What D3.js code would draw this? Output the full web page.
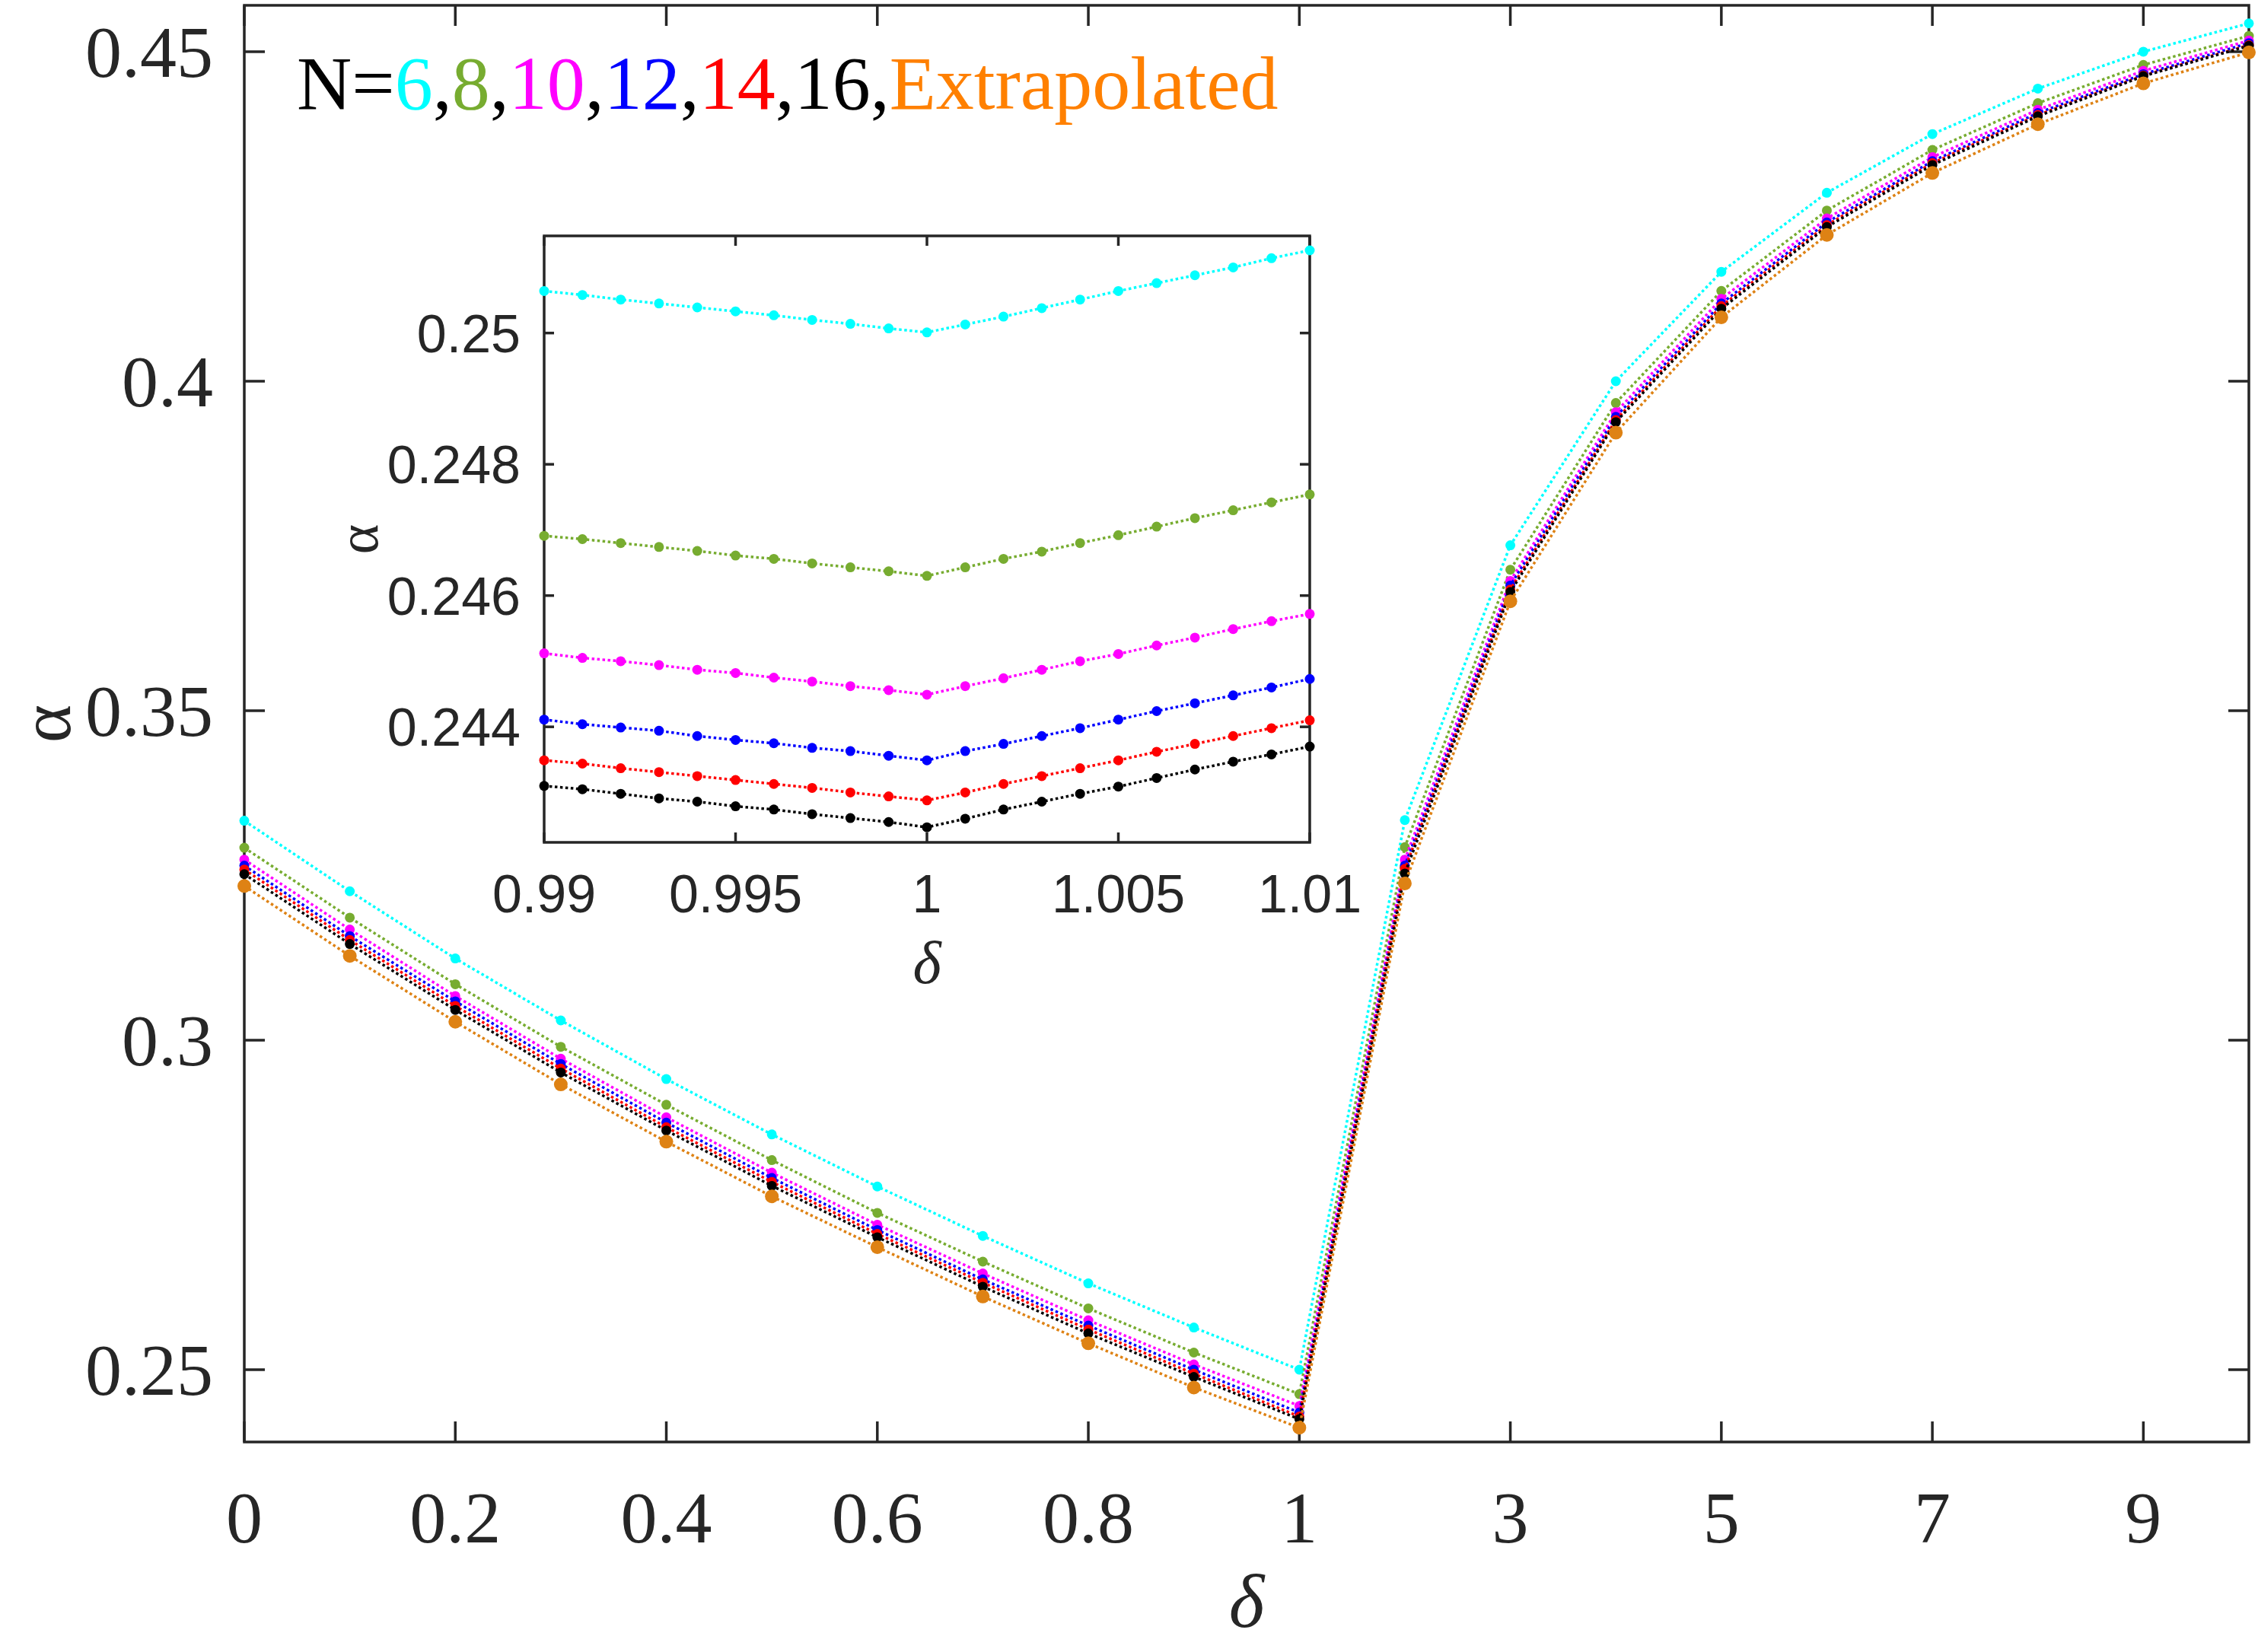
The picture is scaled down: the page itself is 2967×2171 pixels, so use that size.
<!DOCTYPE html>
<html lang="en">
<head>
<meta charset="UTF-8">
<title>alpha vs delta</title>
<script src="https://d3js.org/d3.v7.min.js"></script>
<style>
  body { margin: 0; background: #fff; }
  svg { display: block; background: #fff; }
</style>
</head>
<body>
<svg width="2967" height="2171"></svg>
<script>
// ---- data ----
const deltaMain = [0, 0.1, 0.2, 0.3, 0.4, 0.5, 0.6, 0.7, 0.8, 0.9, 1, 2, 3, 4, 5, 6, 7, 8, 9, 10];

const n6  = [0.3333, 0.3226, 0.3124, 0.3030, 0.2941, 0.2857, 0.2778, 0.2703, 0.2631, 0.2564, 0.2500, 0.3334, 0.3751, 0.4000, 0.4166, 0.4286, 0.4375, 0.4444, 0.4500, 0.4543];
const n8  = [0.3292, 0.3186, 0.3085, 0.2990, 0.2902, 0.2818, 0.2738, 0.2664, 0.2593, 0.2526, 0.2463, 0.3293, 0.3714, 0.3967, 0.4137, 0.4259, 0.4351, 0.4422, 0.4480, 0.4524];
const n10 = [0.3274, 0.3168, 0.3067, 0.2972, 0.2883, 0.2799, 0.2720, 0.2646, 0.2575, 0.2508, 0.2445, 0.3274, 0.3697, 0.3953, 0.4125, 0.4247, 0.4340, 0.4412, 0.4471, 0.4517];
const n12 = [0.3265, 0.3158, 0.3059, 0.2964, 0.2875, 0.2791, 0.2712, 0.2637, 0.2567, 0.2500, 0.2435, 0.3265, 0.3690, 0.3946, 0.4118, 0.4241, 0.4334, 0.4407, 0.4466, 0.4513];
const n14 = [0.3259, 0.3152, 0.3052, 0.2957, 0.2868, 0.2785, 0.2706, 0.2632, 0.2561, 0.2494, 0.2429, 0.3260, 0.3684, 0.3941, 0.4114, 0.4237, 0.4331, 0.4404, 0.4464, 0.4510];
const n16 = [0.3252, 0.3146, 0.3046, 0.2951, 0.2863, 0.2779, 0.2701, 0.2626, 0.2555, 0.2489, 0.2425, 0.3253, 0.3680, 0.3938, 0.4110, 0.4234, 0.4328, 0.4402, 0.4463, 0.4509];
const extrap = [0.3234, 0.3128, 0.3028, 0.2933, 0.2846, 0.2763, 0.2686, 0.2611, 0.2540, 0.2473, 0.2412, 0.3238, 0.3666, 0.3922, 0.4097, 0.4222, 0.4316, 0.4390, 0.4452, 0.4499];

const deltaInset = [0.990, 0.991, 0.992, 0.993, 0.994, 0.995, 0.996, 0.997, 0.998, 0.999, 1.000,
                    1.001, 1.002, 1.003, 1.004, 1.005, 1.006, 1.007, 1.008, 1.009, 1.010];
const inN6  = [0.25064, 0.25058, 0.25051, 0.25045, 0.25039, 0.25033, 0.25027, 0.25020, 0.25014, 0.25007, 0.25001, 0.25013, 0.25025, 0.25038, 0.25051, 0.25064, 0.25076, 0.25088, 0.25100, 0.25114, 0.25126];
const inN8  = [0.24691, 0.24686, 0.24680, 0.24674, 0.24668, 0.24661, 0.24656, 0.24649, 0.24643, 0.24637, 0.24630, 0.24643, 0.24656, 0.24667, 0.24680, 0.24692, 0.24705, 0.24718, 0.24730, 0.24742, 0.24754];
const inN10 = [0.24512, 0.24505, 0.24500, 0.24494, 0.24487, 0.24482, 0.24475, 0.24469, 0.24462, 0.24456, 0.24449, 0.24462, 0.24474, 0.24487, 0.24500, 0.24511, 0.24524, 0.24536, 0.24549, 0.24561, 0.24572];
const inN12 = [0.24411, 0.24404, 0.24399, 0.24394, 0.24386, 0.24380, 0.24375, 0.24368, 0.24363, 0.24356, 0.24349, 0.24363, 0.24374, 0.24386, 0.24398, 0.24411, 0.24424, 0.24436, 0.24448, 0.24460, 0.24473];
const inN14 = [0.24349, 0.24344, 0.24337, 0.24331, 0.24325, 0.24319, 0.24313, 0.24307, 0.24300, 0.24294, 0.24288, 0.24300, 0.24313, 0.24325, 0.24337, 0.24349, 0.24362, 0.24374, 0.24386, 0.24398, 0.24410];
const inN16 = [0.24310, 0.24305, 0.24298, 0.24291, 0.24286, 0.24279, 0.24274, 0.24267, 0.24261, 0.24255, 0.24247, 0.24260, 0.24274, 0.24286, 0.24298, 0.24309, 0.24322, 0.24335, 0.24347, 0.24358, 0.24370];

const mainXTicks = [0, 0.2, 0.4, 0.6, 0.8, 1, 3, 5, 7, 9];
const mainYTicks = [0.25, 0.3, 0.35, 0.4, 0.45];
const insetXTicks = [0.99, 0.995, 1, 1.005, 1.01];
const insetYTicks = [0.244, 0.246, 0.248, 0.25];

const legendParts = ["N=", "6", ",", "8", ",", "10", ",", "12", ",", "14", ",", "16,", "Extrapolated"];

// ---- styling ----
const C = { cyan: "#00FFFF", green: "#77AC30", magenta: "#FF00FF", blue: "#0000FF",
            red: "#FF0000", black: "#000000", orange: "#DE8214" };
const legendColors = ["#000", C.cyan, "#000", C.green, "#000", C.magenta, "#000", C.blue, "#000", C.red, "#000", "#000", "#FF8000"];
const axisColor = "#262626";
const serif = "'Liberation Serif', 'Times New Roman', serif";
const sans = "'Liberation Sans', Arial, sans-serif";

const svg = d3.select("svg");

// main axes box
const M = { left: 321, right: 2955, top: 7, bottom: 1895 };
const unit = (M.right - M.left) / 19;
// δ in [0,1] is stretched over 10 units, δ in [1,10] one unit each
const x = d3.scaleLinear().domain([0, 1, 10]).range([M.left, M.left + 10 * unit, M.right]);
const y = d3.scaleLinear().domain([0.23903, 0.45704]).range([M.bottom, M.top]);

function drawFrame(g, box, xs, ys, xt, yt, tickLen, width) {
  g.append("rect")
    .attr("x", box.left).attr("y", box.top)
    .attr("width", box.right - box.left).attr("height", box.bottom - box.top)
    .attr("fill", "#fff").attr("stroke", axisColor).attr("stroke-width", width);
  const ticks = g.append("g").attr("stroke", axisColor).attr("stroke-width", width);
  xt.forEach(v => {
    ticks.append("line").attr("x1", xs(v)).attr("x2", xs(v)).attr("y1", box.bottom).attr("y2", box.bottom - tickLen);
    ticks.append("line").attr("x1", xs(v)).attr("x2", xs(v)).attr("y1", box.top).attr("y2", box.top + tickLen);
  });
  yt.forEach(v => {
    ticks.append("line").attr("y1", ys(v)).attr("y2", ys(v)).attr("x1", box.left).attr("x2", box.left + tickLen);
    ticks.append("line").attr("y1", ys(v)).attr("y2", ys(v)).attr("x1", box.right).attr("x2", box.right - tickLen);
  });
}

const main = svg.append("g");
drawFrame(main, M, x, y, mainXTicks, mainYTicks, 27, 3.5);

main.selectAll(".xl").data(mainXTicks).enter().append("text")
  .attr("x", d => x(d)).attr("y", 2027)
  .attr("text-anchor", "middle")
  .style("font-family", serif).style("font-size", "96px").attr("fill", axisColor)
  .text(d => d);
main.selectAll(".yl").data(mainYTicks).enter().append("text")
  .attr("x", 280).attr("y", d => y(d) + 33)
  .attr("text-anchor", "end")
  .style("font-family", serif).style("font-size", "96px").attr("fill", axisColor)
  .text(d => d);

main.append("text")
  .attr("x", M.left + (M.right - M.left) / 2).attr("y", 2138)
  .attr("text-anchor", "middle")
  .style("font-family", serif).style("font-size", "100px").style("font-style", "italic")
  .attr("fill", axisColor).text("δ");
main.append("text")
  .attr("transform", `translate(92,${(M.top + M.bottom) / 2}) rotate(-90)`)
  .attr("text-anchor", "middle")
  .style("font-family", serif).style("font-size", "96px")
  .attr("fill", axisColor).text("α");

// main series
const mainSeries = [
  { v: n6, c: C.cyan, r: 6.5 }, { v: n8, c: C.green, r: 6.5 }, { v: n10, c: C.magenta, r: 6.5 },
  { v: n12, c: C.blue, r: 6.5 }, { v: n14, c: C.red, r: 6.5 }, { v: n16, c: C.black, r: 6.5 },
  { v: extrap, c: C.orange, r: 9 }
];
const lineMain = d3.line().x((d, i) => x(deltaMain[i])).y(d => y(d));
mainSeries.forEach(s => {
  const g = main.append("g");
  g.append("path").attr("d", lineMain(s.v))
    .attr("fill", "none").attr("stroke", s.c).attr("stroke-width", 3.5)
    .attr("stroke-dasharray", "3.5,3.5");
  g.selectAll("circle").data(s.v).enter().append("circle")
    .attr("cx", (d, i) => x(deltaMain[i])).attr("cy", d => y(d))
    .attr("r", s.r).attr("fill", s.c);
});

// legend-like annotation
const leg = main.append("text")
  .attr("x", 390).attr("y", 143)
  .style("font-family", serif).style("font-size", "100px");
legendParts.forEach((t, i) => leg.append("tspan").attr("fill", legendColors[i]).text(t));

// ---- inset ----
const I = { left: 715, right: 1721, top: 310, bottom: 1107 };
const xi = d3.scaleLinear().domain([0.99, 1.01]).range([I.left, I.right]);
const yi = d3.scaleLinear().domain([0.24224, 0.25148]).range([I.bottom, I.top]);
const inset = svg.append("g");
drawFrame(inset, I, xi, yi, insetXTicks, insetYTicks, 13, 3.5);

inset.selectAll(".xl").data(insetXTicks).enter().append("text")
  .attr("x", d => xi(d)).attr("y", 1199)
  .attr("text-anchor", "middle")
  .style("font-family", sans).style("font-size", "70px").attr("fill", axisColor)
  .text(d => d);
inset.selectAll(".yl").data(insetYTicks).enter().append("text")
  .attr("x", 684).attr("y", d => yi(d) + 25)
  .attr("text-anchor", "end")
  .style("font-family", sans).style("font-size", "70px").attr("fill", axisColor)
  .text(d => d);
inset.append("text")
  .attr("x", (I.left + I.right) / 2).attr("y", 1292)
  .attr("text-anchor", "middle")
  .style("font-family", serif).style("font-size", "80px").style("font-style", "italic")
  .attr("fill", axisColor).text("δ");
inset.append("text")
  .attr("transform", `translate(496,${(I.top + I.bottom) / 2}) rotate(-90)`)
  .attr("text-anchor", "middle")
  .style("font-family", serif).style("font-size", "76px")
  .attr("fill", axisColor).text("α");

const insetSeries = [
  { v: inN6, c: C.cyan }, { v: inN8, c: C.green }, { v: inN10, c: C.magenta },
  { v: inN12, c: C.blue }, { v: inN14, c: C.red }, { v: inN16, c: C.black }
];
const lineInset = d3.line().x((d, i) => xi(deltaInset[i])).y(d => yi(d));
insetSeries.forEach(s => {
  const g = inset.append("g");
  g.append("path").attr("d", lineInset(s.v))
    .attr("fill", "none").attr("stroke", s.c).attr("stroke-width", 3.5)
    .attr("stroke-dasharray", "3.5,3.5");
  g.selectAll("circle").data(s.v).enter().append("circle")
    .attr("cx", (d, i) => xi(deltaInset[i])).attr("cy", d => yi(d))
    .attr("r", 6.5).attr("fill", s.c);
});
</script>
</body>
</html>
